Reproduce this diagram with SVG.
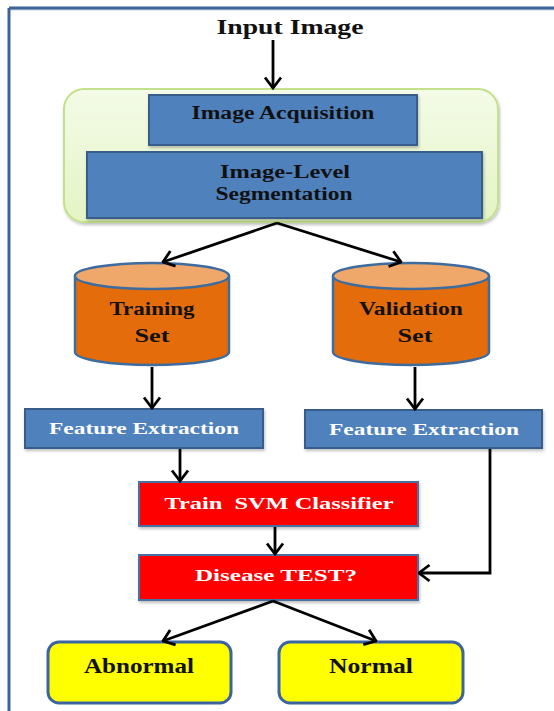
<svg xmlns="http://www.w3.org/2000/svg" width="554" height="711" viewBox="0 0 554 711">
  <defs>
    <marker id="arrow" viewBox="0 0 14 20" refX="12.5" refY="10" markerWidth="14" markerHeight="20" markerUnits="userSpaceOnUse" orient="auto">
      <polyline points="2,2 12.5,10 2,18" fill="none" stroke="#000" stroke-width="2.8" stroke-linejoin="miter"/>
    </marker>
    <linearGradient id="greenFill" x1="0" y1="0" x2="0" y2="1">
      <stop offset="0" stop-color="#f4fbe8"/>
      <stop offset="1" stop-color="#e3f4c4"/>
    </linearGradient>
    <filter id="shadow" x="-10%" y="-10%" width="120%" height="130%">
      <feDropShadow dx="1" dy="2" stdDeviation="1.5" flood-color="#000" flood-opacity="0.25"/>
    </filter>
  </defs>
  <style>
    text { font-family: "Liberation Serif", "Times New Roman", serif; font-weight: bold; text-anchor: middle; white-space: pre; }
    .dark { fill: #111; }
    .light { fill: #fff; }
    .blue { fill: #4f81bd; stroke: #385d8a; stroke-width: 2; }
    .red { fill: #ff0000; stroke: #4a6fa0; stroke-width: 2; }
    .yellow { fill: #ffff00; stroke: #3b64a0; stroke-width: 3; }
    .cyl-body { fill: #e46c0a; stroke: #3f6c9f; stroke-width: 2.5; }
    .cyl-top { fill: #f0a86a; stroke: #3f6c9f; stroke-width: 2.5; }
    .conn { fill: none; stroke: #000; stroke-width: 2.8; }
  </style>

  <rect width="554" height="711" fill="#fff"/>

  <!-- frame -->
  <g id="frame" fill="none">
    <line x1="9" y1="9.5" x2="554" y2="9.5" stroke="#c8d4e4" stroke-width="2"/>
    <line x1="9" y1="8" x2="554" y2="8" stroke="#3c6496" stroke-width="3"/>
    <line x1="9" y1="8" x2="9" y2="711" stroke="#3c6496" stroke-width="3"/>
  </g>

  <g id="input-image">
    <text x="290" y="34" font-size="20" class="dark" textLength="147" lengthAdjust="spacingAndGlyphs">Input Image</text>
  </g>

  <!-- preprocessing container -->
  <g id="preprocessing">
    <rect x="64" y="89" width="434" height="133" rx="20" fill="url(#greenFill)" stroke="#c3e08a" stroke-width="2" filter="url(#shadow)"/>
  </g>

  <g id="image-acquisition">
    <rect x="149" y="95" width="268" height="50" class="blue" filter="url(#shadow)"/>
    <text x="283" y="119" font-size="18" class="dark" textLength="183" lengthAdjust="spacingAndGlyphs">Image Acquisition</text>
  </g>

  <g id="segmentation">
    <rect x="87" y="152" width="395" height="66" class="blue" filter="url(#shadow)"/>
    <text x="285" y="178" font-size="18" class="dark" textLength="130" lengthAdjust="spacingAndGlyphs">Image-Level</text>
    <text x="284" y="200" font-size="18" class="dark" textLength="137" lengthAdjust="spacingAndGlyphs">Segmentation</text>
  </g>

  <g id="training-set">
    <path d="M75,276 V352 A77,13 0 0 0 229,352 V276" class="cyl-body"/>
    <ellipse cx="152" cy="276" rx="77" ry="13" class="cyl-top"/>
    <text x="152" y="315" font-size="19" class="dark" textLength="85" lengthAdjust="spacingAndGlyphs">Training</text>
    <text x="152" y="342" font-size="19" class="dark" textLength="35" lengthAdjust="spacingAndGlyphs">Set</text>
  </g>

  <g id="validation-set">
    <path d="M333,276 V352 A78,13 0 0 0 489,352 V276" class="cyl-body"/>
    <ellipse cx="411" cy="276" rx="78" ry="13" class="cyl-top"/>
    <text x="411" y="315" font-size="19" class="dark" textLength="104" lengthAdjust="spacingAndGlyphs">Validation</text>
    <text x="415" y="342" font-size="19" class="dark" textLength="35" lengthAdjust="spacingAndGlyphs">Set</text>
  </g>

  <g id="feature-extraction-train">
    <rect x="25" y="409" width="238" height="39" class="blue" filter="url(#shadow)"/>
    <text x="144" y="434" font-size="17" class="light" textLength="190" lengthAdjust="spacingAndGlyphs">Feature Extraction</text>
  </g>

  <g id="feature-extraction-valid">
    <rect x="305" y="410" width="237" height="38" class="blue" filter="url(#shadow)"/>
    <text x="424" y="435" font-size="17" class="light" textLength="190" lengthAdjust="spacingAndGlyphs">Feature Extraction</text>
  </g>

  <g id="train-svm">
    <rect x="139" y="482" width="279" height="44" class="red" filter="url(#shadow)"/>
    <text x="279" y="509" font-size="17" class="light" textLength="229" lengthAdjust="spacingAndGlyphs">Train  SVM Classifier</text>
  </g>

  <g id="disease-test">
    <rect x="139" y="555" width="279" height="45" class="red" filter="url(#shadow)"/>
    <text x="276" y="581" font-size="17" class="light" textLength="162" lengthAdjust="spacingAndGlyphs">Disease TEST?</text>
  </g>

  <g id="abnormal">
    <rect x="48" y="642" width="183" height="61" rx="11" class="yellow"/>
    <text x="139" y="673" font-size="21" class="dark" textLength="110" lengthAdjust="spacingAndGlyphs">Abnormal</text>
  </g>

  <g id="normal">
    <rect x="279" y="642" width="184" height="61" rx="11" class="yellow"/>
    <text x="371" y="673" font-size="21" class="dark" textLength="84" lengthAdjust="spacingAndGlyphs">Normal</text>
  </g>

  <!-- connectors -->
  <g id="connectors">
    <line x1="273" y1="40" x2="273" y2="88" class="conn" marker-end="url(#arrow)"/>
    <line x1="277" y1="223" x2="163" y2="262" class="conn" marker-end="url(#arrow)"/>
    <line x1="277" y1="223" x2="401" y2="262" class="conn" marker-end="url(#arrow)"/>
    <line x1="152" y1="367" x2="152" y2="408" class="conn" marker-end="url(#arrow)"/>
    <line x1="415" y1="367" x2="415" y2="409" class="conn" marker-end="url(#arrow)"/>
    <line x1="180" y1="449" x2="180" y2="481" class="conn" marker-end="url(#arrow)"/>
    <line x1="275" y1="527" x2="275" y2="554" class="conn" marker-end="url(#arrow)"/>
    <polyline points="490,449 490,573 419,573" class="conn" marker-end="url(#arrow)"/>
    <line x1="273" y1="601" x2="163" y2="641" class="conn" marker-end="url(#arrow)"/>
    <line x1="273" y1="601" x2="376" y2="641" class="conn" marker-end="url(#arrow)"/>
  </g>
</svg>
